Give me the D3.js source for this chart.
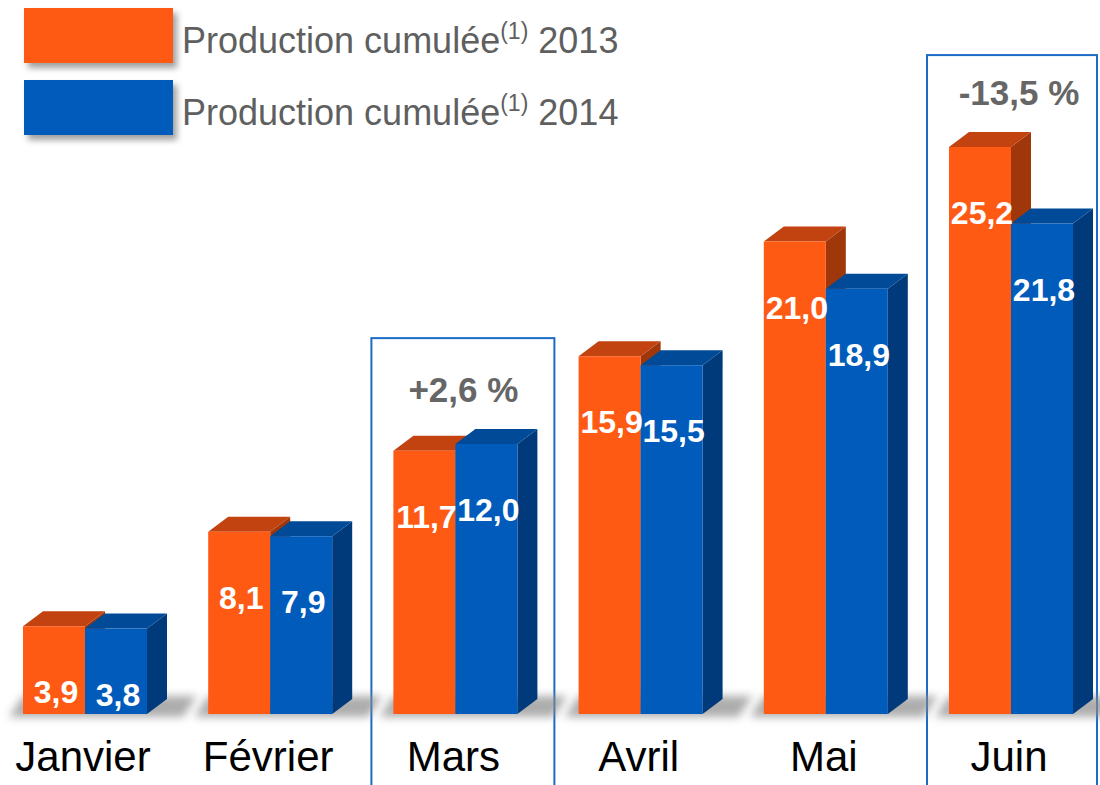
<!DOCTYPE html>
<html>
<head>
<meta charset="utf-8">
<script src="https://cdn.jsdelivr.net/npm/d3@7"></script>
<style>
  body { margin: 0; background: #fff; }
  svg { display: block; font-family: "Liberation Sans", Arial, sans-serif; }
</style>
</head>
<body>
<svg id="chart" width="1100" height="785"></svg>
<script>
// data
const months = ["Janvier", "Février", "Mars", "Avril", "Mai", "Juin"];
const years = ["2013", "2014"];
const prod2013 = [3.9, 8.1, 11.7, 15.9, 21.0, 25.2];
const prod2014 = [3.8, 7.9, 12.0, 15.5, 18.9, 21.8];
const highlights = [
  { month: "Mars", label: "+2,6 %" },
  { month: "Juin", label: "-13,5 %" },
];

const width = 1100, height = 785;
const baseY = 714;
const depthX = 20, depthY = 15;
const pairW = 124;

const colors = {
  "2013": { front: "#fe5a14", top: "#c2430f", side: "#9f370b" },
  "2014": { front: "#005bbb", top: "#004a98", side: "#003a7a" },
};

const fmt = v => d3.format(".1f")(v).replace(".", ",");

const svg = d3.select("#chart");

// shadows
const defs = svg.append("defs");
defs.append("filter").attr("id", "blur").attr("x", "-20%").attr("y", "-100%")
  .attr("width", "140%").attr("height", "300%")
  .append("feGaussianBlur").attr("stdDeviation", 4);
defs.append("filter").attr("id", "blur2").attr("x", "-20%").attr("y", "-50%")
  .attr("width", "140%").attr("height", "200%")
  .append("feGaussianBlur").attr("stdDeviation", 3);

// scales
const x = d3.scaleBand()
  .domain(months)
  .range([23, 23 + 185.2 * months.length])
  .paddingInner(0).paddingOuter(0).align(0);

const xInner = d3.scaleBand().domain(years).range([0, pairW]);

const y = d3.scaleLinear().domain([0, 30]).range([baseY, baseY - 30 * 22.5]);

const rows = months.map((m, i) => ({
  month: m,
  values: [
    { year: "2013", value: prod2013[i] },
    { year: "2014", value: prod2014[i] },
  ],
}));

// highlight boxes
highlights.forEach(h => {
  const i = months.indexOf(h.month);
  const top = y(Math.max(prod2013[i], prod2014[i]));
  const x0 = x(h.month);
  const boxTop = top * 0.953 - 85;
  svg.append("rect")
    .attr("x", x0 - 22)
    .attr("y", boxTop)
    .attr("width", Math.min(183, width - 3 - (x0 - 22)))
    .attr("height", height - boxTop + 5)
    .attr("fill", "none")
    .attr("stroke", "#1c6bc4")
    .attr("stroke-width", 2);
  svg.append("text")
    .attr("x", x0 + 70)
    .attr("y", top - 42)
    .attr("text-anchor", "middle")
    .attr("fill", "#666")
    .style("font-size", "35px")
    .style("font-weight", "bold")
    .text(h.label);
});

// floor shadows
const groups = svg.selectAll("g.month")
  .data(rows)
  .enter()
  .append("g")
  .attr("class", "month")
  .attr("transform", d => `translate(${x(d.month)},0)`);

groups.append("path")
  .attr("d", `M-14,${baseY + 3} L${pairW + depthX + 16},${baseY + 3} L${pairW + depthX + 30},${baseY - depthY - 3} L0,${baseY - depthY - 3} Z`)
  .attr("fill", "#8a8a8a")
  .attr("opacity", 0.7)
  .attr("filter", "url(#blur)");

// bars
const bars = groups.selectAll("g.bar")
  .data(d => d.values)
  .enter()
  .append("g")
  .attr("class", "bar");

const bw = xInner.bandwidth();

bars.append("path")
  .attr("d", d => {
    const x0 = xInner(d.year) + bw, t = y(d.value);
    return `M${x0},${t} L${x0 + depthX},${t - depthY} L${x0 + depthX},${baseY - depthY} L${x0},${baseY} Z`;
  })
  .attr("fill", d => colors[d.year].side);

bars.append("path")
  .attr("d", d => {
    const x0 = xInner(d.year), t = y(d.value);
    return `M${x0},${t} L${x0 + depthX},${t - depthY} L${x0 + bw + depthX},${t - depthY} L${x0 + bw},${t} Z`;
  })
  .attr("fill", d => colors[d.year].top);

bars.append("rect")
  .attr("x", d => xInner(d.year))
  .attr("y", d => y(d.value))
  .attr("width", bw)
  .attr("height", d => baseY - y(d.value))
  .attr("fill", d => colors[d.year].front);

// value labels
groups.selectAll("text.val")
  .data(d => d.values)
  .enter()
  .append("text")
  .attr("class", "val")
  .attr("x", d => xInner(d.year) + bw / 2 + 2)
  .attr("y", d => y(d.value) + 77)
  .attr("text-anchor", "middle")
  .attr("fill", "#fff")
  .style("font-size", "32px")
  .style("font-weight", "bold")
  .text(d => fmt(d.value));

// category labels
groups.append("text")
  .attr("x", pairW / 2 - 2)
  .attr("y", 771)
  .attr("text-anchor", "middle")
  .attr("fill", "#000")
  .style("font-size", "42px")
  .text(d => d.month);

// legend
const legend = svg.selectAll("g.legend")
  .data(years)
  .enter()
  .append("g")
  .attr("class", "legend")
  .attr("transform", (d, i) => `translate(24,${8 + i * 72})`);

legend.append("rect")
  .attr("x", 4).attr("y", 5)
  .attr("width", 149).attr("height", 55)
  .attr("fill", "#777")
  .attr("opacity", 0.7)
  .attr("filter", "url(#blur2)");

legend.append("rect")
  .attr("width", 149).attr("height", 55)
  .attr("fill", d => colors[d].front);

const lt = legend.append("text")
  .attr("x", 158)
  .attr("y", 45)
  .attr("fill", "#5f5f5f")
  .style("font-size", "36px");
lt.append("tspan").text("Production cumulée");
lt.append("tspan").attr("dy", -14).style("font-size", "23px").text("(1)");
lt.append("tspan").attr("dy", 14).text(d => " " + d);
</script>
</body>
</html>
